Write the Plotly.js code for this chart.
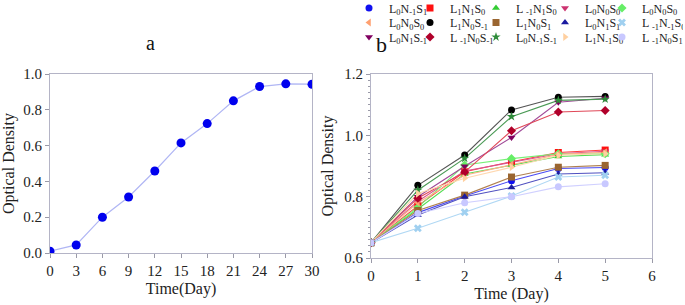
<!DOCTYPE html>
<html><head><meta charset="utf-8">
<script src="https://cdn.plot.ly/plotly-3.0.1.min.js"></script>
<style>html,body{margin:0;padding:0;background:#fff}#chart{width:685px;height:305px}</style>
</head><body><div id="chart"></div>
<script>
// Panel a
const daysA = [0, 3, 6, 9, 12, 15, 18, 21, 24, 27, 30];
const odA = [0.010, 0.045, 0.200, 0.313, 0.458, 0.615, 0.723, 0.850, 0.930, 0.945, 0.943];

// Panel b
const daysB = [0, 1, 2, 3, 4, 5];
const seriesNames = [
  "L<sub>0</sub>N<sub>-1</sub>S<sub>1</sub>", "L<sub>1</sub>N<sub>1</sub>S<sub>0</sub>", "L <sub>-1</sub>N<sub>1</sub>S<sub>0</sub>", "L<sub>0</sub>N<sub>0</sub>S<sub>0</sub>", "L<sub>0</sub>N<sub>0</sub>S<sub>0</sub>",
  "L<sub>0</sub>N<sub>0</sub>S<sub>0</sub>", "L<sub>1</sub>N<sub>0</sub>S<sub>-1</sub>", "L<sub>1</sub>N<sub>0</sub>S<sub>1</sub>", "L<sub>0</sub>N<sub>1</sub>S<sub>1</sub>", "L <sub>-1</sub>N<sub>-1</sub>S<sub>0</sub>",
  "L<sub>0</sub>N<sub>1</sub>S<sub>-1</sub>", "L <sub>-1</sub>N<sub>0</sub>S<sub>-1</sub>", "L<sub>0</sub>N<sub>-1</sub>S<sub>-1</sub>", "L<sub>1</sub>N<sub>-1</sub>S<sub>0</sub>", "L <sub>-1</sub>N<sub>0</sub>S<sub>1</sub>"
];
const L0Nm1S1 = [0.65, 0.748, 0.802, 0.852, 0.892, 0.895];
const L1N1S0 = [0.65, 0.770, 0.881, 0.914, 0.944, 0.952];
const Lm1N1S0 = [0.65, 0.760, 0.874, 0.903, 0.931, 0.937];
const L0N0S0_a = [0.65, 0.785, 0.884, 0.912, 0.940, 0.948];
const L0N0S0_b = [0.65, 0.765, 0.903, 0.924, 0.940, 0.940];
const L0N0S0_c = [0.65, 0.780, 0.870, 0.905, 0.938, 0.945];
const L1N0Sm1 = [0.65, 0.837, 0.936, 1.083, 1.124, 1.127];
const L1N0S1 = [0.65, 0.755, 0.805, 0.864, 0.896, 0.902];
const L0N1S1 = [0.65, 0.740, 0.800, 0.830, 0.874, 0.878];
const Lm1Nm1S0 = [0.65, 0.697, 0.749, 0.802, 0.864, 0.870];
const L0N1Sm1 = [0.65, 0.800, 0.899, 0.993, 1.108, 1.121];
const Lm1N0Sm1 = [0.65, 0.795, 0.880, 1.015, 1.076, 1.081];
const L0Nm1Sm1 = [0.65, 0.821, 0.925, 1.061, 1.114, 1.118];
const L1Nm1S0 = [0.65, 0.810, 0.860, 0.896, 0.935, 0.940];
const Lm1N0S1 = [0.65, 0.745, 0.780, 0.800, 0.832, 0.842];
const seriesValues = [L0Nm1S1, L1N1S0, Lm1N1S0, L0N0S0_a, L0N0S0_b, L0N0S0_c, L1N0Sm1, L1N0S1, L0N1S1, Lm1Nm1S0, L0N1Sm1, Lm1N0Sm1, L0Nm1Sm1, L1Nm1S0, Lm1N0S1];

const colors = ["#1010f0", "#ff1010", "#33cc33", "#cc3370", "#66ee66", "#ffa070", "#000000", "#9a6530", "#1a1aa0", "#a0d0f0", "#800060", "#b0002a", "#2e8b3a", "#ffd0a0", "#c8c8ff"];
const lineColors = ["#4a4af4", "#ff3a3a", "#55dd55", "#d85590", "#77f077", "#ffb088", "#555555", "#b08050", "#5050c0", "#b0d8f4", "#a04a98", "#e04858", "#4a9a55", "#ffd8b0", "#d0d0ff"];
const symbols = ["circle", "square", "triangle-up", "triangle-down", "diamond", "triangle-left", "circle", "square", "triangle-up", "x", "triangle-down", "diamond", "star", "triangle-right", "circle"];
const legendIds = ["legend", "legend2", "legend3"];
const colWidths = [16, 21, 24, 12, 36];

const serif = "Liberation Serif, Times New Roman, serif";
const traces = [{
  x: daysA, y: odA, xaxis: "x", yaxis: "y", type: "scatter", mode: "lines+markers",
  line: {color: "#b0b6f4", width: 1.2}, marker: {color: "#0000ee", size: 9}, showlegend: false, hoverinfo: "skip"
}];
seriesValues.forEach((vals, i) => {
  traces.push({
    x: daysB, y: vals, xaxis: "x2", yaxis: "y2", type: "scatter", mode: "lines",
    showlegend: false, line: {color: lineColors[i], width: 1.1}, hoverinfo: "skip"
  });
});
seriesValues.forEach((vals, i) => {
  traces.push({
    x: daysB, y: vals, xaxis: "x2", yaxis: "y2", type: "scatter", mode: "markers",
    name: seriesNames[i], legend: legendIds[Math.floor(i / 5)], legendwidth: colWidths[i % 5],
    marker: {color: colors[i], symbol: symbols[i], size: 7},
    hoverinfo: "skip"
  });
});

const axisCommon = {
  showline: true, mirror: true, linecolor: "#b4b4c6", linewidth: 1, showgrid: false, zeroline: false,
  ticks: "outside", ticklen: 4, tickcolor: "#9a9aa8", tickfont: {family: serif, size: 15, color: "#222"}
};
const legCommon = {orientation: "h", font: {family: serif, size: 12, color: "#222"}, bgcolor: "rgba(0,0,0,0)",
  xref: "paper", yref: "container", xanchor: "left", yanchor: "middle", tracegroupgap: 0, itemwidth: 30};

// plot area: margin t=60 -> paper y = (305 - py) / 245
const TOP = 60, T = 305, H = T - TOP;
const layout = {
  width: 685, height: 305, margin: {l: 0, r: 0, t: TOP, b: 0}, paper_bgcolor: "#fff", plot_bgcolor: "#fff",
  xaxis: Object.assign({}, axisCommon, {domain: [50/685, 312/685], range: [0, 30], tickvals: daysA,
    title: {text: "Time(Day)", font: {family: serif, size: 16, color: "#222"}, standoff: 4}}),
  yaxis: Object.assign({}, axisCommon, {domain: [(T-253)/H, (T-74)/H], range: [0, 1], dtick: 0.2, tickformat: ".1f",
    title: {text: "Optical Density", font: {family: serif, size: 16, color: "#222"}, standoff: 6}}),
  xaxis2: Object.assign({}, axisCommon, {anchor: "y2", domain: [371/685, 652/685], range: [0, 6], dtick: 1,
    title: {text: "Time (Day)", font: {family: serif, size: 16, color: "#222"}, standoff: 4}}),
  yaxis2: Object.assign({}, axisCommon, {anchor: "x2", domain: [(T-258)/H, (T-74)/H], range: [0.6, 1.2], dtick: 0.2, tickformat: ".1f",
    minor: {dtick: 0.02, ticklen: 2, tickcolor: "#9a9aa8", ticks: "outside"},
    title: {text: "Optical Density", font: {family: serif, size: 16, color: "#222"}, standoff: 6}}),
  legend: Object.assign({}, legCommon, {x: 349/685, y: 1 - 8/T}),
  legend2: Object.assign({}, legCommon, {x: 349/685, y: 1 - 22.5/T}),
  legend3: Object.assign({}, legCommon, {x: 349/685, y: 1 - 37/T}),
  annotations: [
    {text: "a", xref: "paper", yref: "paper", x: 150/685, y: (T-43)/H, xanchor: "center", yanchor: "middle", showarrow: false, font: {family: serif, size: 20, color: "#111"}},
    {text: "b", xref: "paper", yref: "paper", x: 381/685, y: (T-45)/H, xanchor: "center", yanchor: "middle", showarrow: false, font: {family: serif, size: 22, color: "#111"}}
  ],
  showlegend: true
};
Plotly.newPlot("chart", traces, layout, {staticPlot: true, displayModeBar: false});
</script></body></html>
